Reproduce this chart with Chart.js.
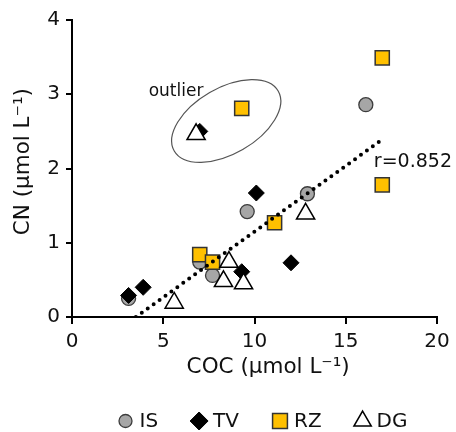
<!DOCTYPE html>
<html>
<head>
<meta charset="utf-8">
<script src="https://cdn.jsdelivr.net/npm/chart.js@4.4.0/dist/chart.umd.min.js"></script>
<style>
  html, body { margin: 0; padding: 0; background: #fff; }
  #contenedor { width: 456px; height: 432px; }
</style>
</head>
<body>
<div id="contenedor"><canvas id="grafico"></canvas></div>
<script>
// valores COC (x) y CN (y) por sitio
var nombres = ['IS', 'TV', 'RZ', 'DG'];
var isX = [3.1, 7.0, 7.7, 9.6, 12.9, 16.1];
var isY = [0.25, 0.74, 0.56, 1.42, 1.66, 2.86];
var tvX = [3.1, 3.9, 7.0, 9.3, 10.1, 12.0];
var tvY = [0.29, 0.40, 2.50, 0.61, 1.67, 0.73];
var rzX = [7.0, 7.7, 9.3, 11.1, 17.0, 17.0];
var rzY = [0.84, 0.74, 2.81, 1.27, 1.78, 3.49];
var dgX = [5.6, 6.8, 8.3, 8.6, 9.4, 12.8];
var dgY = [0.19, 2.46, 0.48, 0.74, 0.45, 1.39];
// recta de ajuste
var ajusteX = [3.5, 17.0];
var ajusteY = [0.0, 2.39];
var rValor = 0.852;
var ticksX = [0, 5, 10, 15, 20];
var ticksY = [0, 1, 2, 3, 4];

window.onload = inicializar;

function puntos(xs, ys) {
  return xs.map(function (x, i) { return { x: x, y: ys[i] }; });
}

// elipse del outlier y textos sobre el grafico
var anotaciones = {
  id: 'anotaciones',
  afterDatasetsDraw: function (chart) {
    var ctx = chart.ctx;
    var sx = chart.scales.x, sy = chart.scales.y;
    ctx.save();
    ctx.strokeStyle = '#555';
    ctx.lineWidth = 1.2;
    ctx.beginPath();
    ctx.ellipse(sx.getPixelForValue(8.45), sy.getPixelForValue(2.64), 60, 33, -Math.PI / 6, 0, 2 * Math.PI);
    ctx.stroke();
    ctx.fillStyle = '#111';
    ctx.textAlign = 'left';
    ctx.textBaseline = 'middle';
    ctx.font = '17px "DejaVu Sans"';
    ctx.fillText('outlier', sx.getPixelForValue(4.2), sy.getPixelForValue(3.03));
    ctx.font = '19px "DejaVu Sans"';
    ctx.fillText('r=' + rValor.toFixed(3), sx.getPixelForValue(16.54), sy.getPixelForValue(2.085));
    ctx.restore();
  }
};

// leyenda propia: cada simbolo con su tamano
var radiosLeyenda = [6.5, 9, 10.5, 10];
var leyenda = {
  id: 'leyenda',
  afterDraw: function (chart) {
    var ctx = chart.ctx;
    var y = 421, hueco = 32, caja = 18, sep = 5;
    ctx.save();
    ctx.font = '20px "DejaVu Sans"';
    ctx.textBaseline = 'middle';
    ctx.textAlign = 'left';
    var sets = chart.data.datasets.slice(0, nombres.length);
    var anchos = sets.map(function (ds) { return caja + sep + ctx.measureText(ds.label).width; });
    var total = anchos.reduce(function (a, b) { return a + b; }, 0) + hueco * (sets.length - 1);
    var x = 262 - total / 2;
    sets.forEach(function (ds, i) {
      ctx.fillStyle = ds.backgroundColor;
      ctx.strokeStyle = ds.borderColor;
      ctx.lineWidth = ds.borderWidth;
      Chart.helpers.drawPoint(ctx, { pointStyle: ds.pointStyle, radius: radiosLeyenda[i], rotation: 0, borderWidth: ds.borderWidth }, x + caja / 2, y);
      ctx.fillStyle = '#111';
      ctx.fillText(ds.label, x + caja + sep, y + 1);
      x += anchos[i] + hueco;
    });
    ctx.restore();
  }
};

function inicializar() {
  Chart.defaults.font.family = '"DejaVu Sans"';
  Chart.defaults.color = '#111';

  new Chart(document.getElementById('grafico'), {
    type: 'scatter',
    data: {
      datasets: [
        {
          label: nombres[0], data: puntos(isX, isY), order: 4,
          pointStyle: 'circle', pointRadius: 7,
          backgroundColor: '#A6A6A6', borderColor: '#3c3c3c', borderWidth: 1.3
        },
        {
          label: nombres[1], data: puntos(tvX, tvY), order: 3,
          pointStyle: 'rectRot', pointRadius: 8,
          backgroundColor: '#000', borderColor: '#000', borderWidth: 1
        },
        {
          label: nombres[2], data: puntos(rzX, rzY), order: 2,
          pointStyle: 'rect', pointRadius: 10,
          backgroundColor: '#FFC000', borderColor: '#333', borderWidth: 1.5
        },
        {
          label: nombres[3], data: puntos(dgX, dgY), order: 1,
          pointStyle: 'triangle', pointRadius: 10.5,
          backgroundColor: '#fff', borderColor: '#000', borderWidth: 1.5
        },
        {
          type: 'line', label: 'ajuste', data: puntos(ajusteX, ajusteY), order: 0,
          showLine: true, pointRadius: 0, borderColor: '#000', borderWidth: 4,
          borderDash: [0, 7.3], borderCapStyle: 'round', fill: false
        }
      ]
    },
    options: {
      responsive: true,
      maintainAspectRatio: false,
      animation: false,
      events: [],
      layout: { padding: { left: 0, right: 19, top: 20, bottom: 49 } },
      scales: {
        x: {
          type: 'linear',
          min: ticksX[0], max: ticksX[ticksX.length - 1],
          ticks: { stepSize: ticksX[1] - ticksX[0], font: { size: 20 }, padding: 6 },
          grid: { display: true, drawOnChartArea: false, drawTicks: true, tickLength: 7, color: '#000', lineWidth: 2 },
          border: { display: true, color: '#000', width: 2 },
          title: { display: true, text: '    COC (μmol L⁻¹)', font: { size: 21.5 }, padding: { top: 0, bottom: 3 } },
          afterFit: function (s) { s.height = 66; }
        },
        y: {
          min: ticksY[0], max: ticksY[ticksY.length - 1],
          ticks: { stepSize: ticksY[1] - ticksY[0], font: { size: 20 }, padding: 6 },
          grid: { display: true, drawOnChartArea: false, drawTicks: true, tickLength: 6, color: '#000', lineWidth: 2 },
          border: { display: true, color: '#000', width: 2 },
          title: { display: true, text: '  CN (μmol L⁻¹)', font: { size: 21.5 }, padding: { top: 11, bottom: 0 } },
          afterFit: function (s) { s.width = 72; }
        }
      },
      plugins: {
        tooltip: { enabled: false },
        legend: { display: false }
      }
    },
    plugins: [anotaciones, leyenda]
  });
}
</script>
</body>
</html>
